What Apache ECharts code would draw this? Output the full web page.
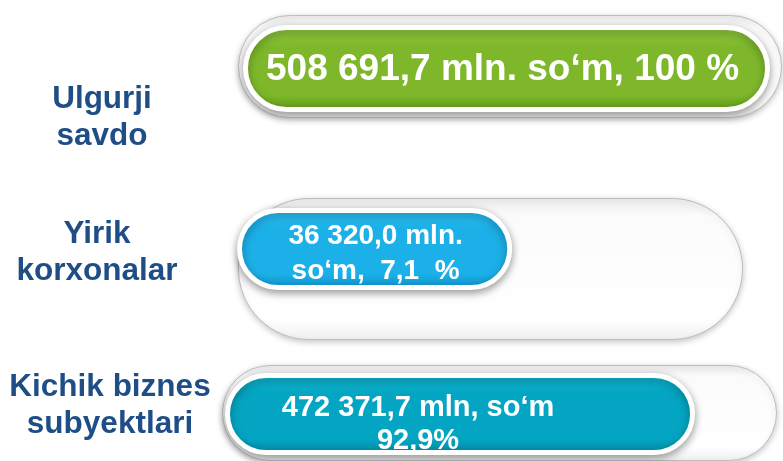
<!DOCTYPE html>
<html>
<head>
<meta charset="utf-8">
<script src="https://cdn.jsdelivr.net/npm/echarts@6/dist/echarts.min.js"></script>
<style>
  html, body { margin: 0; padding: 0; background: #ffffff; }
  #chart { width: 783px; height: 461px; }
</style>
</head>
<body>
<div id="chart"></div>
<script>
// ---- data ----
const categories = ['Ulgurji\nsavdo', 'Yirik\nkorxonalar', 'Kichik biznes\nsubyektlari'];
const valuesMln = [508691.7, 36320.0, 472371.7];
const sharePct = [100, 7.1, 92.9];
// bar length as drawn in the picture, in % of its track
const shownFill = [97.6, 54.5, 84.7];
const valueLabels = ['508 691,7 mln. so‘m, 100 %', '36 320,0 mln.\nso‘m,  7,1  %', '472 371,7 mln, so‘m\n92,9%'];

// ---- layout / style ----
const FONT = "'Liberation Sans', Arial, Helvetica, sans-serif";
const trackBox = [
  { l: 238, t: 15, w: 544, h: 103 },
  { l: 238, t: 198, w: 505, h: 142 },
  { l: 222, t: 365, w: 555, h: 105 }
];
const pillBox = [
  { l: 243, t: 25, h: 87 },
  { l: 237, t: 208, h: 82 },
  { l: 225, t: 373, h: 82 }
];
const pillColors = [
  ['#92cc44', '#7eb82a', '#5f9a16'],
  ['#2cc6f6', '#1bb0e8', '#0f92cc'],
  ['#10bbd8', '#04a5c2', '#028aa6']
];
const labelStyle = [
  { fontSize: 37, lineHeight: 40, offset: [-4, 1] },
  { fontSize: 28, lineHeight: 35, offset: [1, 5] },
  { fontSize: 29, lineHeight: 33, offset: [-42, 10] }
];
const catPos = [
  { x: 102, y: 118 },
  { x: 97, y: 253 },
  { x: 110, y: 406 }
];

const grids = [], xAxes = [], yAxes = [], series = [];
categories.forEach(function (cat, i) {
  const tb = trackBox[i], pb = pillBox[i];
  grids.push({ left: tb.l, top: tb.t, width: tb.w, height: tb.h });
  grids.push({ left: pb.l, top: pb.t, width: tb.w, height: pb.h });
  [0, 1].forEach(function (k) {
    const g = i * 2 + k;
    xAxes.push({ type: 'value', gridIndex: g, min: 0, max: 100, show: false });
    yAxes.push({ type: 'category', gridIndex: g, data: [cat], show: false });
  });
  series.push({
    type: 'bar', xAxisIndex: i * 2, yAxisIndex: i * 2, silent: true,
    data: [100], barWidth: '100%',
    itemStyle: {
      color: new echarts.graphic.LinearGradient(0, 0, 0, 1, [
        { offset: 0, color: '#ececec' }, { offset: 0.12, color: '#fbfbfb' },
        { offset: 0.85, color: '#ffffff' }, { offset: 1, color: '#f0f0f0' }
      ]),
      borderColor: '#bdbdbd', borderWidth: 1,
      borderRadius: tb.h / 2,
      shadowBlur: 6, shadowColor: 'rgba(0,0,0,0.22)', shadowOffsetY: 2
    }
  });
  const c = pillColors[i];
  series.push({
    type: 'bar', xAxisIndex: i * 2 + 1, yAxisIndex: i * 2 + 1, silent: true,
    data: [shownFill[i]], barWidth: '100%',
    itemStyle: {
      color: new echarts.graphic.LinearGradient(0, 0, 0, 1, [
        { offset: 0, color: c[0] }, { offset: 0.25, color: c[1] },
        { offset: 0.8, color: c[1] }, { offset: 1, color: c[2] }
      ]),
      borderColor: '#ffffff', borderWidth: 5,
      borderRadius: pb.h / 2,
      shadowBlur: 8, shadowColor: 'rgba(0,0,0,0.35)', shadowOffsetY: 3
    },
    label: {
      show: true, position: 'inside',
      formatter: valueLabels[i],
      color: '#ffffff', fontWeight: 'bold', fontFamily: FONT,
      fontSize: labelStyle[i].fontSize, lineHeight: labelStyle[i].lineHeight,
      offset: labelStyle[i].offset, align: 'center'
    }
  });
});

const graphic = categories.map(function (cat, i) {
  return {
    type: 'text', x: catPos[i].x, y: catPos[i].y, silent: true,
    style: {
      text: cat, fill: '#1f4e86', font: 'bold 31.5px ' + FONT,
      textAlign: 'center', textVerticalAlign: 'middle', lineHeight: 37
    }
  };
});

const chart = echarts.init(document.getElementById('chart'), null, { renderer: 'canvas' });
chart.setOption({
  animation: false,
  backgroundColor: '#ffffff',
  grid: grids, xAxis: xAxes, yAxis: yAxes, series: series, graphic: graphic
});
</script>
</body>
</html>
